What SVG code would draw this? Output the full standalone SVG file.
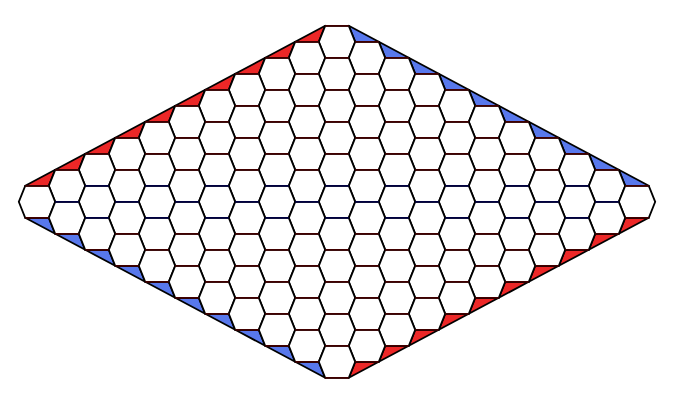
<svg xmlns="http://www.w3.org/2000/svg" xmlns:xlink="http://www.w3.org/1999/xlink" width="675" height="405" viewBox="0 0 675 405">
<style>
.hx{fill:#fff;stroke:#000;stroke-width:1.8;stroke-linejoin:miter}
.red{fill:#ec2727;stroke:#000;stroke-width:1.8;stroke-linejoin:round}
.blue{fill:#5878ec;stroke:#000;stroke-width:1.8;stroke-linejoin:round}
.hm{fill:none;stroke:#400000;stroke-width:1.8;stroke-linecap:butt}
.hn{fill:none;stroke:#000040;stroke-width:1.8;stroke-linecap:butt}
</style>
<defs>
<polygon id="hex" class="hx" points="-18.2,0 -11.8,-16 11.8,-16 18.2,0 11.8,16 -11.8,16"/>
</defs>
<rect width="675" height="405" fill="#fff"/>
<g id="board" transform="translate(337 41.8)">
<g id="borders">
<polygon class="red" points="-11.8,-16 -18.2,0 -41.8,0"/>
<polygon class="red" points="-41.8,0 -48.2,16 -71.8,16"/>
<polygon class="red" points="-71.8,16 -78.2,32 -101.8,32"/>
<polygon class="red" points="-101.8,32 -108.2,48 -131.8,48"/>
<polygon class="red" points="-131.8,48 -138.2,64 -161.8,64"/>
<polygon class="red" points="-161.8,64 -168.2,80 -191.8,80"/>
<polygon class="red" points="-191.8,80 -198.2,96 -221.8,96"/>
<polygon class="red" points="-221.8,96 -228.2,112 -251.8,112"/>
<polygon class="red" points="-251.8,112 -258.2,128 -281.8,128"/>
<polygon class="red" points="-281.8,128 -288.2,144 -311.8,144"/>
<polygon class="blue" points="11.8,-16 18.2,0 41.8,0"/>
<polygon class="blue" points="41.8,0 48.2,16 71.8,16"/>
<polygon class="blue" points="71.8,16 78.2,32 101.8,32"/>
<polygon class="blue" points="101.8,32 108.2,48 131.8,48"/>
<polygon class="blue" points="131.8,48 138.2,64 161.8,64"/>
<polygon class="blue" points="161.8,64 168.2,80 191.8,80"/>
<polygon class="blue" points="191.8,80 198.2,96 221.8,96"/>
<polygon class="blue" points="221.8,96 228.2,112 251.8,112"/>
<polygon class="blue" points="251.8,112 258.2,128 281.8,128"/>
<polygon class="blue" points="281.8,128 288.2,144 311.8,144"/>
<polygon class="blue" points="-311.8,176 -288.2,176 -281.8,192"/>
<polygon class="blue" points="-281.8,192 -258.2,192 -251.8,208"/>
<polygon class="blue" points="-251.8,208 -228.2,208 -221.8,224"/>
<polygon class="blue" points="-221.8,224 -198.2,224 -191.8,240"/>
<polygon class="blue" points="-191.8,240 -168.2,240 -161.8,256"/>
<polygon class="blue" points="-161.8,256 -138.2,256 -131.8,272"/>
<polygon class="blue" points="-131.8,272 -108.2,272 -101.8,288"/>
<polygon class="blue" points="-101.8,288 -78.2,288 -71.8,304"/>
<polygon class="blue" points="-71.8,304 -48.2,304 -41.8,320"/>
<polygon class="blue" points="-41.8,320 -18.2,320 -11.8,336"/>
<polygon class="red" points="311.8,176 288.2,176 281.8,192"/>
<polygon class="red" points="281.8,192 258.2,192 251.8,208"/>
<polygon class="red" points="251.8,208 228.2,208 221.8,224"/>
<polygon class="red" points="221.8,224 198.2,224 191.8,240"/>
<polygon class="red" points="191.8,240 168.2,240 161.8,256"/>
<polygon class="red" points="161.8,256 138.2,256 131.8,272"/>
<polygon class="red" points="131.8,272 108.2,272 101.8,288"/>
<polygon class="red" points="101.8,288 78.2,288 71.8,304"/>
<polygon class="red" points="71.8,304 48.2,304 41.8,320"/>
<polygon class="red" points="41.8,320 18.2,320 11.8,336"/>
</g>
<g id="cells">
<g id="c0-0"><use href="#hex" x="0" y="0"/></g>
<g id="c0-1"><use href="#hex" x="30" y="16"/></g>
<g id="c0-2"><use href="#hex" x="60" y="32"/></g>
<g id="c0-3"><use href="#hex" x="90" y="48"/></g>
<g id="c0-4"><use href="#hex" x="120" y="64"/></g>
<g id="c0-5"><use href="#hex" x="150" y="80"/></g>
<g id="c0-6"><use href="#hex" x="180" y="96"/></g>
<g id="c0-7"><use href="#hex" x="210" y="112"/></g>
<g id="c0-8"><use href="#hex" x="240" y="128"/></g>
<g id="c0-9"><use href="#hex" x="270" y="144"/></g>
<g id="c0-10"><use href="#hex" x="300" y="160"/></g>
<g id="c1-0"><use href="#hex" x="-30" y="16"/></g>
<g id="c1-1"><use href="#hex" x="0" y="32"/></g>
<g id="c1-2"><use href="#hex" x="30" y="48"/></g>
<g id="c1-3"><use href="#hex" x="60" y="64"/></g>
<g id="c1-4"><use href="#hex" x="90" y="80"/></g>
<g id="c1-5"><use href="#hex" x="120" y="96"/></g>
<g id="c1-6"><use href="#hex" x="150" y="112"/></g>
<g id="c1-7"><use href="#hex" x="180" y="128"/></g>
<g id="c1-8"><use href="#hex" x="210" y="144"/></g>
<g id="c1-9"><use href="#hex" x="240" y="160"/></g>
<g id="c1-10"><use href="#hex" x="270" y="176"/></g>
<g id="c2-0"><use href="#hex" x="-60" y="32"/></g>
<g id="c2-1"><use href="#hex" x="-30" y="48"/></g>
<g id="c2-2"><use href="#hex" x="0" y="64"/></g>
<g id="c2-3"><use href="#hex" x="30" y="80"/></g>
<g id="c2-4"><use href="#hex" x="60" y="96"/></g>
<g id="c2-5"><use href="#hex" x="90" y="112"/></g>
<g id="c2-6"><use href="#hex" x="120" y="128"/></g>
<g id="c2-7"><use href="#hex" x="150" y="144"/></g>
<g id="c2-8"><use href="#hex" x="180" y="160"/></g>
<g id="c2-9"><use href="#hex" x="210" y="176"/></g>
<g id="c2-10"><use href="#hex" x="240" y="192"/></g>
<g id="c3-0"><use href="#hex" x="-90" y="48"/></g>
<g id="c3-1"><use href="#hex" x="-60" y="64"/></g>
<g id="c3-2"><use href="#hex" x="-30" y="80"/></g>
<g id="c3-3"><use href="#hex" x="0" y="96"/></g>
<g id="c3-4"><use href="#hex" x="30" y="112"/></g>
<g id="c3-5"><use href="#hex" x="60" y="128"/></g>
<g id="c3-6"><use href="#hex" x="90" y="144"/></g>
<g id="c3-7"><use href="#hex" x="120" y="160"/></g>
<g id="c3-8"><use href="#hex" x="150" y="176"/></g>
<g id="c3-9"><use href="#hex" x="180" y="192"/></g>
<g id="c3-10"><use href="#hex" x="210" y="208"/></g>
<g id="c4-0"><use href="#hex" x="-120" y="64"/></g>
<g id="c4-1"><use href="#hex" x="-90" y="80"/></g>
<g id="c4-2"><use href="#hex" x="-60" y="96"/></g>
<g id="c4-3"><use href="#hex" x="-30" y="112"/></g>
<g id="c4-4"><use href="#hex" x="0" y="128"/></g>
<g id="c4-5"><use href="#hex" x="30" y="144"/></g>
<g id="c4-6"><use href="#hex" x="60" y="160"/></g>
<g id="c4-7"><use href="#hex" x="90" y="176"/></g>
<g id="c4-8"><use href="#hex" x="120" y="192"/></g>
<g id="c4-9"><use href="#hex" x="150" y="208"/></g>
<g id="c4-10"><use href="#hex" x="180" y="224"/></g>
<g id="c5-0"><use href="#hex" x="-150" y="80"/></g>
<g id="c5-1"><use href="#hex" x="-120" y="96"/></g>
<g id="c5-2"><use href="#hex" x="-90" y="112"/></g>
<g id="c5-3"><use href="#hex" x="-60" y="128"/></g>
<g id="c5-4"><use href="#hex" x="-30" y="144"/></g>
<g id="c5-5"><use href="#hex" x="0" y="160"/></g>
<g id="c5-6"><use href="#hex" x="30" y="176"/></g>
<g id="c5-7"><use href="#hex" x="60" y="192"/></g>
<g id="c5-8"><use href="#hex" x="90" y="208"/></g>
<g id="c5-9"><use href="#hex" x="120" y="224"/></g>
<g id="c5-10"><use href="#hex" x="150" y="240"/></g>
<g id="c6-0"><use href="#hex" x="-180" y="96"/></g>
<g id="c6-1"><use href="#hex" x="-150" y="112"/></g>
<g id="c6-2"><use href="#hex" x="-120" y="128"/></g>
<g id="c6-3"><use href="#hex" x="-90" y="144"/></g>
<g id="c6-4"><use href="#hex" x="-60" y="160"/></g>
<g id="c6-5"><use href="#hex" x="-30" y="176"/></g>
<g id="c6-6"><use href="#hex" x="0" y="192"/></g>
<g id="c6-7"><use href="#hex" x="30" y="208"/></g>
<g id="c6-8"><use href="#hex" x="60" y="224"/></g>
<g id="c6-9"><use href="#hex" x="90" y="240"/></g>
<g id="c6-10"><use href="#hex" x="120" y="256"/></g>
<g id="c7-0"><use href="#hex" x="-210" y="112"/></g>
<g id="c7-1"><use href="#hex" x="-180" y="128"/></g>
<g id="c7-2"><use href="#hex" x="-150" y="144"/></g>
<g id="c7-3"><use href="#hex" x="-120" y="160"/></g>
<g id="c7-4"><use href="#hex" x="-90" y="176"/></g>
<g id="c7-5"><use href="#hex" x="-60" y="192"/></g>
<g id="c7-6"><use href="#hex" x="-30" y="208"/></g>
<g id="c7-7"><use href="#hex" x="0" y="224"/></g>
<g id="c7-8"><use href="#hex" x="30" y="240"/></g>
<g id="c7-9"><use href="#hex" x="60" y="256"/></g>
<g id="c7-10"><use href="#hex" x="90" y="272"/></g>
<g id="c8-0"><use href="#hex" x="-240" y="128"/></g>
<g id="c8-1"><use href="#hex" x="-210" y="144"/></g>
<g id="c8-2"><use href="#hex" x="-180" y="160"/></g>
<g id="c8-3"><use href="#hex" x="-150" y="176"/></g>
<g id="c8-4"><use href="#hex" x="-120" y="192"/></g>
<g id="c8-5"><use href="#hex" x="-90" y="208"/></g>
<g id="c8-6"><use href="#hex" x="-60" y="224"/></g>
<g id="c8-7"><use href="#hex" x="-30" y="240"/></g>
<g id="c8-8"><use href="#hex" x="0" y="256"/></g>
<g id="c8-9"><use href="#hex" x="30" y="272"/></g>
<g id="c8-10"><use href="#hex" x="60" y="288"/></g>
<g id="c9-0"><use href="#hex" x="-270" y="144"/></g>
<g id="c9-1"><use href="#hex" x="-240" y="160"/></g>
<g id="c9-2"><use href="#hex" x="-210" y="176"/></g>
<g id="c9-3"><use href="#hex" x="-180" y="192"/></g>
<g id="c9-4"><use href="#hex" x="-150" y="208"/></g>
<g id="c9-5"><use href="#hex" x="-120" y="224"/></g>
<g id="c9-6"><use href="#hex" x="-90" y="240"/></g>
<g id="c9-7"><use href="#hex" x="-60" y="256"/></g>
<g id="c9-8"><use href="#hex" x="-30" y="272"/></g>
<g id="c9-9"><use href="#hex" x="0" y="288"/></g>
<g id="c9-10"><use href="#hex" x="30" y="304"/></g>
<g id="c10-0"><use href="#hex" x="-300" y="160"/></g>
<g id="c10-1"><use href="#hex" x="-270" y="176"/></g>
<g id="c10-2"><use href="#hex" x="-240" y="192"/></g>
<g id="c10-3"><use href="#hex" x="-210" y="208"/></g>
<g id="c10-4"><use href="#hex" x="-180" y="224"/></g>
<g id="c10-5"><use href="#hex" x="-150" y="240"/></g>
<g id="c10-6"><use href="#hex" x="-120" y="256"/></g>
<g id="c10-7"><use href="#hex" x="-90" y="272"/></g>
<g id="c10-8"><use href="#hex" x="-60" y="288"/></g>
<g id="c10-9"><use href="#hex" x="-30" y="304"/></g>
<g id="c10-10"><use href="#hex" x="0" y="320"/></g>
</g>
<g id="hex-edges">
<path class="hm" d="M-11.8 -16h23.6
M-41.8 0h23.6m36.4 0h23.6
M-71.8 16h23.6m36.4 0h23.6m36.4 0h23.6
M-101.8 32h23.6m36.4 0h23.6m36.4 0h23.6m36.4 0h23.6
M-131.8 48h23.6m36.4 0h23.6m36.4 0h23.6m36.4 0h23.6m36.4 0h23.6
M-161.8 64h23.6m36.4 0h23.6m36.4 0h23.6m36.4 0h23.6m36.4 0h23.6m36.4 0h23.6
M-191.8 80h23.6m36.4 0h23.6m36.4 0h23.6m36.4 0h23.6m36.4 0h23.6m36.4 0h23.6m36.4 0h23.6
M-221.8 96h23.6m36.4 0h23.6m36.4 0h23.6m36.4 0h23.6m36.4 0h23.6m36.4 0h23.6m36.4 0h23.6m36.4 0h23.6
M-251.8 112h23.6m36.4 0h23.6m36.4 0h23.6m36.4 0h23.6m36.4 0h23.6m36.4 0h23.6m36.4 0h23.6m36.4 0h23.6m36.4 0h23.6
M-281.8 128h23.6m36.4 0h23.6m36.4 0h23.6m36.4 0h23.6m36.4 0h23.6m36.4 0h23.6m36.4 0h23.6m36.4 0h23.6m36.4 0h23.6m36.4 0h23.6
M-311.8 144h23.6M288.2 144h23.6
M-311.8 176h23.6M288.2 176h23.6
M-281.8 192h23.6m36.4 0h23.6m36.4 0h23.6m36.4 0h23.6m36.4 0h23.6m36.4 0h23.6m36.4 0h23.6m36.4 0h23.6m36.4 0h23.6m36.4 0h23.6
M-251.8 208h23.6m36.4 0h23.6m36.4 0h23.6m36.4 0h23.6m36.4 0h23.6m36.4 0h23.6m36.4 0h23.6m36.4 0h23.6m36.4 0h23.6
M-221.8 224h23.6m36.4 0h23.6m36.4 0h23.6m36.4 0h23.6m36.4 0h23.6m36.4 0h23.6m36.4 0h23.6m36.4 0h23.6
M-191.8 240h23.6m36.4 0h23.6m36.4 0h23.6m36.4 0h23.6m36.4 0h23.6m36.4 0h23.6m36.4 0h23.6
M-161.8 256h23.6m36.4 0h23.6m36.4 0h23.6m36.4 0h23.6m36.4 0h23.6m36.4 0h23.6
M-131.8 272h23.6m36.4 0h23.6m36.4 0h23.6m36.4 0h23.6m36.4 0h23.6
M-101.8 288h23.6m36.4 0h23.6m36.4 0h23.6m36.4 0h23.6
M-71.8 304h23.6m36.4 0h23.6m36.4 0h23.6
M-41.8 320h23.6m36.4 0h23.6
M-11.8 336h23.6"/>
<path class="hn" d="M-251.8 144h23.6m36.4 0h23.6m36.4 0h23.6m36.4 0h23.6m36.4 0h23.6m36.4 0h23.6m36.4 0h23.6m36.4 0h23.6m36.4 0h23.6
M-281.8 160h23.6m36.4 0h23.6m36.4 0h23.6m36.4 0h23.6m36.4 0h23.6m36.4 0h23.6m36.4 0h23.6m36.4 0h23.6m36.4 0h23.6m36.4 0h23.6
M-251.8 176h23.6m36.4 0h23.6m36.4 0h23.6m36.4 0h23.6m36.4 0h23.6m36.4 0h23.6m36.4 0h23.6m36.4 0h23.6m36.4 0h23.6"/>
</g>
</g>
</svg>
